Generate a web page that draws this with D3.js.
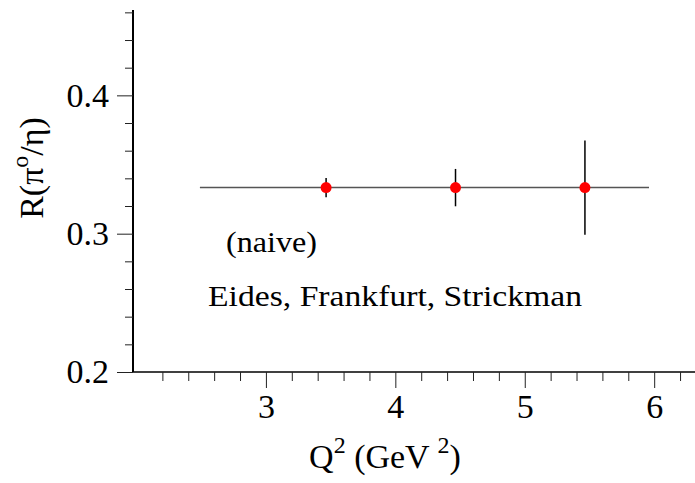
<!DOCTYPE html>
<html>
<head>
<meta charset="utf-8">
<script src="https://cdn.jsdelivr.net/npm/d3@7"></script>
<style>
  body { margin: 0; background: #fff; }
</style>
</head>
<body>
<div id="chart"></div>
<script>
// data
const q2 = [3.465, 4.465, 5.465]
const ratio = [0.3333, 0.3333, 0.3333]
const err = [0.007, 0.0135, 0.034]
const naiveLine = [[2.49, 0.3333], [5.96, 0.3333]]
const xTicks = [3, 4, 5, 6]
const yTicks = [0.2, 0.3, 0.4]

const width = 695, height = 483
const serif = '"Liberation Serif"'

var svg = d3.select('#chart').append('svg')
    .attr('width', width)
    .attr('height', height)

var x = d3.scaleLinear().domain([1.973, 6.3]).range([133, 693])
var y = d3.scaleLinear().domain([0.2, 0.4617]).range([372, 10])

// minor ticks
var xMinor = d3.range(2.2, 6.3, 0.2).filter(v => Math.abs(v - Math.round(v)) > 0.01)
var yMinor = d3.range(0.22, 0.461, 0.02).filter(v => Math.abs(v * 10 - Math.round(v * 10)) > 0.01)

var xAxis = svg.append('g').attr('transform', `translate(0, ${y(0.2)})`)
    .call(d3.axisBottom(x).tickValues(xTicks).tickSize(16).tickPadding(6).tickFormat(d3.format('d')))
xAxis.select('.domain').attr('d', `M${x.range()[0]},0H${width}`).attr('stroke-width', 1.5)
svg.append('g').attr('transform', `translate(0, ${y(0.2)})`)
    .call(d3.axisBottom(x).tickValues(xMinor).tickSize(9).tickFormat(''))
    .call(g => g.select('.domain').remove())

var yAxis = svg.append('g').attr('transform', `translate(${x.range()[0]}, 0)`)
    .call(d3.axisLeft(y).tickValues(yTicks).tickSize(16).tickPadding(8).tickFormat(d3.format('.1f')))
yAxis.select('.domain').attr('d', `M0,${y.range()[0]}V${y.range()[1]}`).attr('stroke-width', 2)
svg.append('g').attr('transform', `translate(${x.range()[0]}, 0)`)
    .call(d3.axisLeft(y).tickValues(yMinor).tickSize(8).tickFormat(''))
    .call(g => g.select('.domain').remove())

svg.selectAll('g').attr('font-family', serif)
svg.selectAll('.tick line').attr('stroke', '#222')
svg.selectAll('.tick text')
    .attr('font-family', serif)
    .attr('font-size', 34)
    .attr('fill', '#000')

// naive prediction line
svg.append('path')
    .datum(naiveLine)
    .attr('d', d3.line().x(d => x(d[0])).y(d => y(d[1])))
    .attr('stroke', '#555')
    .attr('stroke-width', 1.5)
    .attr('fill', 'none')

// error bars
svg.selectAll('line.err')
    .data(q2).enter()
    .append('line')
    .attr('class', 'err')
    .attr('x1', d => x(d)).attr('x2', d => x(d))
    .attr('y1', (d, i) => y(ratio[i] - err[i]))
    .attr('y2', (d, i) => y(ratio[i] + err[i]))
    .attr('stroke', '#000')
    .attr('stroke-width', 1.5)

svg.selectAll('circle.pt')
    .data(q2).enter()
    .append('circle')
    .attr('class', 'pt')
    .attr('cx', d => x(d))
    .attr('cy', (d, i) => y(ratio[i]))
    .attr('r', 5.5)
    .attr('fill', '#ff0000')

// annotations
svg.append('text')
    .attr('x', 226).attr('y', 252)
    .attr('font-family', serif)
    .attr('font-size', 30)
    .attr('textLength', 91)
    .attr('lengthAdjust', 'spacingAndGlyphs')
    .text('(naive)')
svg.append('text')
    .attr('x', 208).attr('y', 306)
    .attr('font-family', serif)
    .attr('font-size', 30)
    .attr('textLength', 374)
    .attr('lengthAdjust', 'spacingAndGlyphs')
    .text('Eides, Frankfurt, Strickman')

// axis titles
var xt = svg.append('text')
    .attr('x', 385).attr('y', 468)
    .attr('text-anchor', 'middle')
    .attr('font-family', serif)
    .attr('font-size', 34)
xt.append('tspan').text('Q')
xt.append('tspan').attr('dy', -15).attr('font-size', 24).text('2')
xt.append('tspan').attr('dy', 15).text(' (GeV ')
xt.append('tspan').attr('dy', -15).attr('font-size', 24).text('2')
xt.append('tspan').attr('dy', 15).text(')')

var yt = svg.append('text')
    .attr('transform', 'translate(43, 168) rotate(-90)')
    .attr('text-anchor', 'middle')
    .attr('font-family', serif)
    .attr('font-size', 34)
yt.append('tspan').text('R(π')
yt.append('tspan').attr('dy', -15).attr('font-size', 24).text('o')
yt.append('tspan').attr('dy', 15).text('/η)')
</script>
</body>
</html>
